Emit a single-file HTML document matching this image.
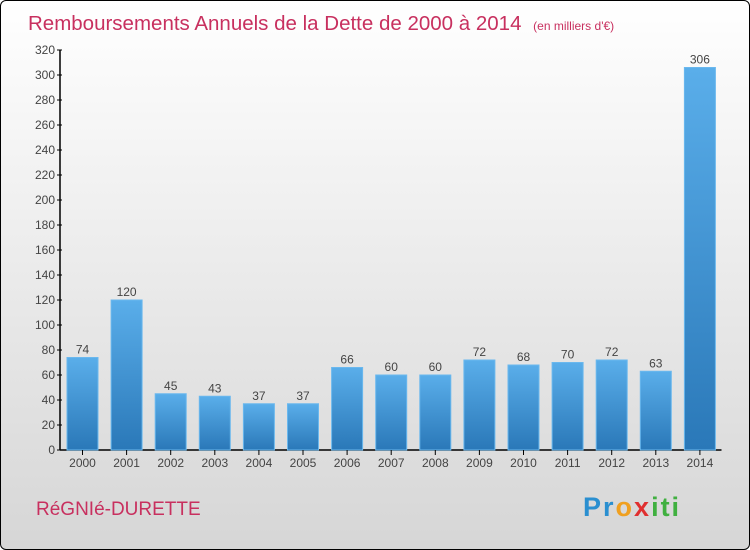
<!DOCTYPE html>
<html><head><meta charset="utf-8"><style>
html,body{margin:0;padding:0}
body{width:750px;height:550px;overflow:hidden;font-family:"Liberation Sans",sans-serif}
#frame{position:absolute;left:0;top:0;width:748px;height:548px;border:1px solid #000;border-radius:6px;background:linear-gradient(#ffffff,#d6d6d6);overflow:hidden}
</style></head><body>
<div id="frame">
<svg id="chart" width="750" height="550" style="position:absolute;left:-1px;top:-1px">
<defs><linearGradient id="bg" x1="0" y1="0" x2="0" y2="1"><stop offset="0" stop-color="#5aaeea"/><stop offset="1" stop-color="#2a78b8"/></linearGradient></defs>
<text x="28" y="30" font-size="20.5" fill="#c8305f">Remboursements Annuels de la Dette de 2000 à 2014 <tspan font-size="12" dx="6">(en milliers d'€)</tspan></text>
<text x="36" y="515" font-size="19" fill="#c8305f">RéGNIé-DURETTE</text>
<text x="583" y="516" font-size="27" font-weight="bold" letter-spacing="2"><tspan fill="#2a8fd0">Pr</tspan><tspan fill="#f0a020">o</tspan><tspan fill="#e03030">x</tspan><tspan fill="#40b040">iti</tspan></text>
<g id="plot"></g>
</svg>
</div>
<script>
const categories=["2000","2001","2002","2003","2004","2005","2006","2007","2008","2009","2010","2011","2012","2013","2014"];
const values=[74,120,45,43,37,37,66,60,60,72,68,70,72,63,306];
const yTicks=[0,20,40,60,80,100,120,140,160,180,200,220,240,260,280,300,320];
const NS="http://www.w3.org/2000/svg";
const g=document.getElementById('plot');
const x0=60,slot=44.1,y0=450,yMax=320,yTop=50;
const y=v=>y0-(v/yMax)*(y0-yTop);
const xc=i=>x0+slot*i+22.5;
function mk(t,a){const e=document.createElementNS(NS,t);for(const k in a)e.setAttribute(k,a[k]);g.appendChild(e);return e;}
let ax=mk('line',{x1:x0,y1:yTop,x2:x0,y2:y0,stroke:'#000','stroke-width':1.5});


let bx=mk('line',{x1:x0,y1:y0,x2:x0+slot*categories.length,y2:y0,stroke:'#000','stroke-width':1.5});


yTicks.forEach(t=>{
 mk('line',{x1:x0-3,y1:y(t),x2:x0+2,y2:y(t),stroke:'#000'});
 const tx=mk('text',{x:x0-5,y:y(t)+4,'text-anchor':'end','font-size':12,fill:'#444'});
 tx.textContent=t;
 
 
});
categories.forEach((c,i)=>{
 const v=values[i];
 const r=mk('rect',{x:xc(i)-15.5,y:y(v),width:31,height:y0-y(v),fill:'url(#bg)',stroke:'#6ab8ee','stroke-width':1});
 
 
 mk('line',{x1:xc(i),y1:y0,x2:xc(i),y2:y0+5,stroke:'#000'});
 const l=mk('text',{x:xc(i),y:y0+17,'text-anchor':'middle','font-size':12,fill:'#444'});
 l.textContent=c;
 
 
 const vl=mk('text',{x:xc(i),y:y(v)-4,'text-anchor':'middle','font-size':12,fill:'#444'});
 vl.textContent=v;
 
 
});
</script>
</body></html>
